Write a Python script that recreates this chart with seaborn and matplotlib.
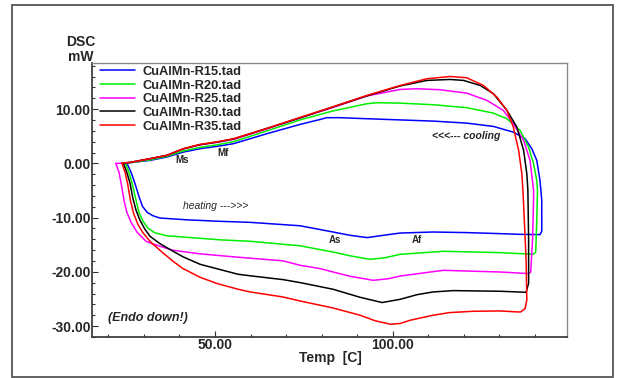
import matplotlib
matplotlib.use("Agg")
import numpy as np
import pandas as pd
import seaborn as sns
import matplotlib.pyplot as plt
from matplotlib.patches import Rectangle
from matplotlib.lines import Line2D
from matplotlib.ticker import MultipleLocator, FormatStrFormatter

samples = ["CuAlMn-R15.tad", "CuAlMn-R20.tad", "CuAlMn-R25.tad", "CuAlMn-R30.tad", "CuAlMn-R35.tad"]
colors = ["#0000ff", "#00ee00", "#ff00ff", "#000000", "#ff0000"]

# R15 (blue): heating left->right, up at the end, cooling right->left
r15_temp = [25.2, 26.4, 27.5, 28.6, 29.6, 30.9, 32.6, 34.5, 42.0, 51.4, 59.9, 73.9, 79.6, 83.2, 88.0, 92.8,
            97.3, 102.1, 111.3, 120.9, 130.2, 135.8, 141.4,
            141.9, 141.9, 141.4, 140.5, 139.1, 137.2, 133.9, 130.2, 128.3, 120.8, 111.4, 102.1, 92.7, 85.2,
            81.4, 79.6, 73.9, 64.6, 55.2, 50.5, 45.8, 41.1, 36.4, 31.7, 26.1, 25.2]
r15_dsc = [0.05, -1.66, -3.74, -6.08, -7.92, -9.02, -9.67, -10.07, -10.4, -10.68, -10.87, -11.5, -12.2, -12.65,
           -13.26, -13.68, -13.26, -12.84, -12.65, -12.76, -12.95, -13.08, -13.13,
           -12.5, -6.81, -3.13, 0.55, 2.71, 4.55, 5.76, 6.45, 6.81, 7.42, 7.79, 8.01, 8.23, 8.42,
           8.42, 8.1, 7.18, 5.47, 3.63, 3.13, 2.71, 2.08, 1.16, 0.55, 0.13, 0.05]

# R20 (green)
r20_temp = [24.7, 25.8, 26.9, 27.8, 28.6, 29.75, 31.2, 33.1, 36.5, 45.8, 51.4, 59.9, 73.9, 83.2, 88.0, 93.6,
            97.8, 102.1, 114.2, 130.2, 139.5,
            140.2, 140.5, 140.7, 140.5, 139.6, 138.2, 135.8, 132.1, 128.3, 120.8, 111.4, 102.1, 95.5, 92.7,
            83.2, 73.9, 64.6, 55.2, 50.5, 45.8, 41.1, 36.4, 31.7, 26.1, 24.7]
r20_dsc = [0.05, -1.66, -4.24, -6.81, -9.02, -10.68, -11.97, -12.8, -13.35, -13.81, -14.09, -14.36, -15.19,
           -16.34, -17.04, -17.68, -17.4, -16.76, -16.2, -16.45, -16.76,
           -16.34, -10.5, -4.97, -3.13, -0.06, 3.0, 6.08, 8.23, 9.26, 10.26, 10.81, 11.1, 11.18, 10.99,
           9.67, 8.01, 5.99, 4.0, 3.41, 2.95, 2.3, 1.29, 0.64, 0.13, 0.05]

# R25 (magenta)
r25_temp = [22.1, 23.0, 23.7, 24.4, 25.2, 26.4, 28.1, 30.6, 31.7, 33.7, 38.2, 45.8, 55.1, 69.1, 73.9, 79.6,
            83.2, 88.0, 94.5, 98.7, 102.1, 114.2, 130.2, 138.2,
            138.8, 139.3, 139.6, 139.6, 138.6, 136.8, 133.9, 131.1, 126.5, 120.8, 113.3, 106.8, 102.1,
            92.7, 83.2, 73.9, 64.6, 55.2, 50.5, 45.8, 41.1, 36.4, 31.7, 26.1, 23.3, 22.1]
r25_dsc = [0.0, -1.66, -4.05, -6.81, -9.02, -10.87, -12.71, -14.36, -14.64, -15.1, -16.02, -16.67, -17.22,
           -17.96, -18.78, -19.4, -20.02, -20.81, -21.55, -21.27, -20.76, -19.71, -20.02, -20.31,
           -20.02, -14.18, -6.81, -4.97, 0.55, 4.24, 7.31, 9.76, 11.6, 12.95, 13.57, 13.76, 13.63,
           12.43, 10.31, 8.38, 6.35, 4.42, 3.87, 3.41, 2.67, 1.47, 0.83, 0.18, 0.0, 0.0]

# R30 (black)
r30_temp = [24.2, 25.2, 26.1, 26.9, 27.8, 28.9, 30.3, 31.7, 34.5, 38.2, 41.0, 45.8, 50.6, 56.5, 59.9, 69.1,
            73.9, 83.2, 90.8, 97.0, 102.1, 106.8, 111.3, 117.0, 130.2, 137.5,
            138.2, 138.2, 138.0, 137.7, 136.8, 134.9, 132.1, 128.3, 124.6, 119.9, 116.1, 109.6, 102.1,
            92.7, 83.2, 73.9, 64.6, 55.2, 50.5, 45.8, 41.1, 36.4, 31.7, 26.1, 24.2]
r30_dsc = [0.05, -1.66, -3.68, -6.45, -8.66, -10.5, -12.15, -13.44, -14.79, -16.21, -17.22, -18.6, -19.43,
           -20.44, -20.72, -21.42, -21.97, -23.2, -24.68, -25.65, -25.05, -24.2, -23.7, -23.45, -23.57,
           -23.76,
           -22.1, -14.18, -4.97, -1.9, 2.39, 6.69, 9.76, 12.84, 14.36, 15.29, 15.47, 15.29, 14.27,
           12.43, 10.4, 8.38, 6.45, 4.5, 3.92, 3.45, 2.69, 1.47, 0.87, 0.18, 0.05]

# R35 (red)
r35_temp = [23.8, 24.7, 25.4, 26.2, 27.1, 28.3, 29.75, 31.7, 34.5, 38.2, 41.0, 45.8, 50.6, 56.5, 59.9, 69.1,
            73.9, 83.2, 90.8, 95.0, 99.3, 102.1, 104.9, 111.3, 116.0, 122.6, 130.2, 135.0, 136.0,
            137.2, 137.7, 137.5, 137.0, 136.6, 136.3, 135.4, 133.9, 132.1, 129.3, 125.5, 120.8, 116.1,
            109.6, 102.1, 92.7, 83.2, 73.9, 64.6, 55.2, 50.5, 45.8, 41.1, 36.4, 31.7, 26.1, 23.8]
r35_dsc = [0.05, -1.66, -3.68, -6.81, -9.21, -11.23, -12.8, -14.36, -16.02, -18.05, -19.39, -20.99, -22.15,
           -23.2, -23.7, -24.62, -25.36, -26.65, -27.99, -29.0, -29.65, -29.5, -28.91, -27.99, -27.5,
           -27.26, -27.2, -27.38, -27.38,
           -26.76, -25.23, -17.86, -10.5, -4.97, -1.9, 2.39, 6.69, 9.76, 12.21, 14.36, 15.78, 16.02,
           15.6, 14.36, 12.52, 10.44, 8.47, 6.45, 4.55, 3.96, 3.5, 2.71, 1.47, 0.87, 0.18, 0.05]

temps = [r15_temp, r20_temp, r25_temp, r30_temp, r35_temp]
dscs = [r15_dsc, r20_dsc, r25_dsc, r30_dsc, r35_dsc]

frames = []
for name, t, d in zip(samples, temps, dscs):
    frames.append(pd.DataFrame({"Temp": t, "DSC": d, "sample": name, "order": np.arange(len(t))}))
df = pd.concat(frames, ignore_index=True)

sns.set_theme(style="white")
plt.rcParams["font.family"] = ["Liberation Sans", "DejaVu Sans"]

fig = plt.figure(figsize=(6.24, 3.78), dpi=100)
ax = fig.add_axes([92 / 624, 1 - 337 / 378, 475 / 624, 274 / 378])

sns.lineplot(data=df, x="Temp", y="DSC", hue="sample", palette=dict(zip(samples, colors)),
             sort=False, estimator=None, linewidth=1.1, legend=False, ax=ax)

ax.set_xlim(15.4, 149.0)
ax.set_ylim(-32.0, 18.5)
ax.xaxis.set_major_locator(MultipleLocator(50))
ax.xaxis.set_minor_locator(MultipleLocator(10))
ax.yaxis.set_major_locator(MultipleLocator(10))
ax.yaxis.set_minor_locator(MultipleLocator(2))
ax.xaxis.set_major_formatter(FormatStrFormatter("%.2f"))
ax.yaxis.set_major_formatter(FormatStrFormatter("%.2f"))
ax.tick_params(axis="both", which="major", direction="in", length=4, width=0.8, color="#333333",
               labelsize=10, pad=1)
ax.tick_params(axis="both", which="minor", direction="in", length=2, width=0.8, color="#333333")
ax.tick_params(axis="y", which="both", left=True)
ax.tick_params(axis="x", which="both", bottom=True)
for lab in ax.get_xticklabels() + ax.get_yticklabels():
    lab.set_fontweight("bold")
ax.set_xlabel("")
ax.set_ylabel("")

for side in ["left", "bottom"]:
    ax.spines[side].set_color("#404040")
    ax.spines[side].set_linewidth(1.3)
for side in ["top", "right"]:
    ax.spines[side].set_color("#8a8a8a")
    ax.spines[side].set_linewidth(1.0)

handles = [Line2D([0], [0], color=c, lw=1.1) for c in colors]
ax.legend(handles, samples, loc="upper left", bbox_to_anchor=(0.017, 0.99), frameon=False,
          prop={"weight": "bold", "size": 9.3}, handlelength=2.7, handletextpad=0.6,
          labelspacing=0.13, borderpad=0, borderaxespad=0)

ax.text(40.7, 0.55, "Ms", fontsize=7, fontweight="bold", ha="center", va="center")
ax.text(52.3, 1.84, "Mf", fontsize=7, fontweight="bold", ha="center", va="center")
ax.text(83.8, -14.2, "As", fontsize=7, fontweight="bold", ha="center", va="center")
ax.text(106.9, -14.2, "Af", fontsize=7, fontweight="bold", ha="center", va="center")
ax.text(120.6, 4.97, "<<<--- cooling", fontsize=7.5, fontweight="bold", fontstyle="italic",
        ha="center", va="center")
ax.text(50.3, -7.92, "heating --->>>", fontsize=7.5, fontstyle="italic", ha="center", va="center")
ax.text(31.2, -28.5, "(Endo down!)", fontsize=9, fontweight="bold", fontstyle="italic",
        ha="center", va="center")

fig.text(81 / 624, 1 - 49.5 / 378, "DSC\nmW", fontsize=10, fontweight="bold", ha="center",
         va="center", linespacing=1.05)
fig.text(330 / 624, 1 - 358 / 378, "Temp  [C]", fontsize=10, fontweight="bold", ha="center",
         va="center")

fig.patches.append(Rectangle((12 / 624, 1 - 377 / 378), 601 / 624, 372 / 378, transform=fig.transFigure,
                             fill=False, edgecolor="#555555", linewidth=1.3))

fig.savefig("out.png", dpi=100)
